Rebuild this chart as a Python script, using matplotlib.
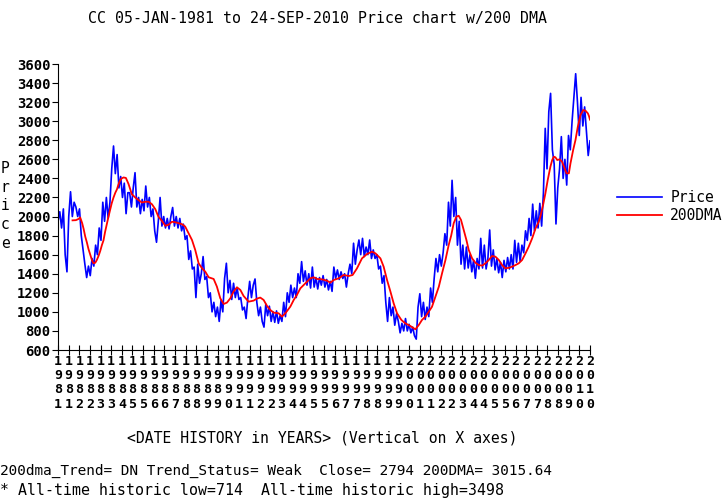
"""CC price history with its 200-day moving average, drawn in the old bitmap-chart style."""

import matplotlib

matplotlib.use("Agg")
import matplotlib.pyplot as plt
import numpy as np

MONO = "DejaVu Sans Mono"
BLUE = "#0000ff"
RED = "#ff0000"

# price samples, ten per year from 05-JAN-1981
price_start = 1981.0
price_step = 0.1
price = [
    1950, 2050, 1880, 2080, 1600, 1420, 2000, 2260, 2000, 2150,  # 1981
    2100, 2000, 2080, 1800, 1650, 1500, 1360, 1480, 1380, 1560,  # 1982
    1480, 1700, 1600, 1880, 1750, 2150, 1950, 2200, 1980, 2150,  # 1983
    2500, 2740, 2450, 2650, 2300, 2420, 2200, 2350, 2030, 2250,  # 1984
    2250, 2100, 2300, 2460, 2100, 2200, 2030, 2180, 2060, 2320,  # 1985
    2100, 2200, 2000, 2080, 1850, 1730, 1950, 2200, 1900, 2000,  # 1986
    1880, 1980, 1870, 2000, 2095, 1900, 2000, 1880, 1980, 1850,  # 1987
    1920, 1760, 1800, 1550, 1640, 1450, 1470, 1150, 1500, 1300,  # 1988
    1400, 1580, 1340, 1370, 1150, 1200, 1000, 1100, 950, 1050,  # 1989
    900, 1120, 1000, 1350, 1510, 1200, 1330, 1130, 1300, 1150,  # 1990
    1250, 1130, 1150, 1020, 1050, 930, 1150, 1320, 1150, 1280,  # 1991
    1345, 1100, 960, 1050, 900, 840, 1080, 960, 1060, 900,  # 1992
    1000, 890, 1010, 880, 960, 900, 1100, 950, 1200, 1100,  # 1993
    1280, 1150, 1250, 1150, 1400, 1300, 1527, 1320, 1430, 1280,  # 1994
    1400, 1250, 1470, 1260, 1360, 1240, 1360, 1280, 1380, 1260,  # 1995
    1340, 1230, 1320, 1215, 1470, 1350, 1440, 1340, 1420, 1350,  # 1996
    1400, 1260, 1400, 1500, 1400, 1720, 1500, 1650, 1754, 1600,  # 1997
    1771, 1580, 1680, 1600, 1754, 1560, 1650, 1560, 1600, 1450,  # 1998
    1480, 1300, 1380, 1100, 900, 1150, 960, 1050, 860, 980,  # 1999
    900, 780, 880, 800, 930, 800, 870, 780, 840, 750,  # 2000
    714, 1050, 1190, 950, 1100, 920, 1050, 950, 1250, 1100,  # 2001
    1350, 1560, 1420, 1600, 1480, 1620, 1820, 1700, 2150, 1900,  # 2002
    2380, 2000, 2200, 1700, 1950, 1500, 1700, 1450, 1680, 1460,  # 2003
    1600, 1420, 1540, 1352, 1560, 1450, 1771, 1460, 1700, 1450,  # 2004
    1560, 1859, 1480, 1650, 1440, 1560, 1410, 1520, 1360, 1540,  # 2005
    1420, 1570, 1450, 1600, 1450, 1750, 1520, 1720, 1530, 1700,  # 2006
    1620, 1850, 1750, 1980, 1800, 2130, 1850, 2060, 1880, 2138,  # 2007
    1900, 2250, 2925, 2500, 3100, 3292, 2700, 2550, 1922, 2300,  # 2008
    2500, 2838, 2400, 2600, 2330, 2850, 2700, 3000, 3250, 3498,  # 2009
    3200, 2850, 3250, 2950, 3150, 2900, 2640, 2794,  # 2010
]

# 200-day moving average as (decimal year, value)
dma = [
    (1981.81, 1960), (1982.00, 1962), (1982.15, 1975), (1982.24, 1990), (1982.35, 1930),
    (1982.43, 1870), (1982.52, 1790), (1982.61, 1730), (1982.70, 1660), (1982.80, 1600),
    (1982.90, 1540), (1982.98, 1510), (1983.08, 1515), (1983.17, 1545), (1983.27, 1590),
    (1983.36, 1640), (1983.45, 1700), (1983.54, 1750), (1983.63, 1840), (1983.73, 1925),
    (1983.82, 2000), (1983.91, 2070), (1984.00, 2140), (1984.10, 2200), (1984.20, 2250),
    (1984.29, 2285), (1984.38, 2340), (1984.47, 2380), (1984.56, 2400), (1984.66, 2410),
    (1984.79, 2405), (1984.94, 2340), (1985.12, 2235), (1985.31, 2200), (1985.50, 2172),
    (1985.68, 2147), (1985.87, 2155), (1986.06, 2155), (1986.24, 2130), (1986.43, 2078),
    (1986.61, 1997), (1986.80, 1955), (1986.99, 1903), (1987.17, 1914), (1987.36, 1945),
    (1987.55, 1940), (1987.73, 1930), (1987.92, 1920), (1988.10, 1895), (1988.29, 1825),
    (1988.48, 1754), (1988.66, 1650), (1988.85, 1510), (1989.04, 1457), (1989.22, 1422),
    (1989.41, 1363), (1989.69, 1345), (1989.87, 1265), (1990.06, 1142), (1990.25, 1083),
    (1990.43, 1097), (1990.62, 1142), (1990.80, 1212), (1990.99, 1258), (1991.18, 1230),
    (1991.36, 1167), (1991.64, 1107), (1991.92, 1118), (1992.11, 1139), (1992.29, 1150),
    (1992.48, 1125), (1992.67, 1062), (1992.85, 1020), (1993.04, 992), (1993.32, 985),
    (1993.50, 950), (1993.69, 985), (1993.97, 1055), (1994.16, 1125), (1994.34, 1178),
    (1994.53, 1247), (1994.81, 1300), (1995.09, 1352), (1995.27, 1363), (1995.46, 1345),
    (1995.74, 1341), (1996.02, 1327), (1996.20, 1306), (1996.39, 1334), (1996.67, 1352),
    (1996.95, 1387), (1997.23, 1376), (1997.45, 1387), (1997.69, 1456), (1997.97, 1561),
    (1998.25, 1607), (1998.53, 1631), (1998.72, 1614), (1999.00, 1561), (1999.18, 1474),
    (1999.37, 1334), (1999.56, 1212), (1999.74, 1089), (1999.93, 984), (2000.17, 915),
    (2000.39, 880), (2000.67, 852), (2000.95, 817), (2001.14, 862), (2001.32, 915),
    (2001.51, 950), (2001.70, 1002), (2001.88, 1054), (2002.07, 1159), (2002.26, 1264),
    (2002.44, 1404), (2002.63, 1544), (2002.81, 1700), (2002.95, 1800), (2003.09, 1929),
    (2003.24, 1999), (2003.37, 2008), (2003.50, 1964), (2003.65, 1859), (2003.80, 1754),
    (2003.93, 1649), (2004.12, 1561), (2004.30, 1516), (2004.49, 1491), (2004.68, 1485),
    (2004.86, 1509), (2005.05, 1544), (2005.23, 1586), (2005.42, 1579), (2005.61, 1544),
    (2005.79, 1491), (2005.98, 1456), (2006.17, 1463), (2006.35, 1474), (2006.54, 1491),
    (2006.72, 1509), (2006.91, 1544), (2007.10, 1614), (2007.28, 1684), (2007.47, 1771),
    (2007.66, 1876), (2007.84, 1946), (2007.93, 2000), (2008.08, 2120), (2008.21, 2243),
    (2008.34, 2383), (2008.49, 2523), (2008.59, 2593), (2008.68, 2628), (2008.77, 2621),
    (2008.87, 2593), (2009.01, 2600), (2009.14, 2575), (2009.28, 2505), (2009.39, 2453),
    (2009.52, 2453), (2009.61, 2558), (2009.76, 2698), (2009.89, 2803), (2010.02, 2943),
    (2010.17, 3065), (2010.32, 3117), (2010.45, 3110), (2010.58, 3082), (2010.64, 3055),
    (2010.70, 3016),
]

y_ticks = [600, 800, 1000, 1200, 1400, 1600, 1800, 2000, 2200, 2400, 2600,
           2800, 3000, 3200, 3400, 3600]

# year printed under each of the 51 evenly spaced x ticks
tick_years = [
    "1981", "1981", "1982", "1982", "1983", "1983", "1984", "1985", "1985",
    "1986", "1986", "1987", "1988", "1988", "1989", "1989", "1990", "1991",
    "1991", "1992", "1992", "1993", "1994", "1994", "1995", "1995", "1996",
    "1997", "1997", "1998", "1998", "1999", "1999", "2000", "2001", "2001",
    "2002", "2002", "2003", "2004", "2004", "2005", "2005", "2006", "2007",
    "2007", "2008", "2008", "2009", "2010", "2010",
]

title = "CC 05-JAN-1981 to 24-SEP-2010 Price chart w/200 DMA"
x_caption = "<DATE HISTORY in YEARS> (Vertical on X axes)"
status_line = "200dma_Trend= DN Trend_Status= Weak  Close= 2794 200DMA= 3015.64"
extremes_line = "* All-time historic low=714  All-time historic high=3498"

W, H = 725, 500
fig = plt.figure(figsize=(W / 100, H / 100), dpi=100)
ax = fig.add_axes([58 / W, 1 - 350 / H, 532 / W, 286 / H])

dates = price_start + price_step * np.arange(len(price))
dma_dates, dma_values = zip(*dma)

ax.plot(dates, price, color=BLUE, lw=1.2, label="Price")
ax.plot(dma_dates, dma_values, color=RED, lw=1.3, label="200DMA")

ax.set_xlim(dates[0], dates[-1])
ax.set_ylim(y_ticks[0], y_ticks[-1])
for side in ("top", "right"):
    ax.spines[side].set_visible(False)
for side in ("left", "bottom"):
    ax.spines[side].set_linewidth(0.8)

ax.set_yticks(y_ticks)
ax.set_yticklabels([str(v) for v in y_ticks], fontfamily=MONO, fontweight="bold", fontsize=10)
ax.set_xticks(np.linspace(dates[0], dates[-1], len(tick_years)))
ax.set_xticklabels(["\n".join(year) for year in tick_years], fontfamily=MONO,
                   fontweight="bold", fontsize=9.5, linespacing=1.13)
ax.tick_params(axis="x", direction="inout", length=7, width=0.8, pad=0)
ax.tick_params(axis="y", direction="out", length=4.5, width=0.8, pad=1)

ax.legend(loc="center left", bbox_to_anchor=(617 / W, 1 - 206.5 / H),
          bbox_transform=fig.transFigure, frameon=False, borderpad=0, borderaxespad=0,
          prop={"family": MONO, "size": 10.5}, handlelength=3.1, handletextpad=0.55,
          labelspacing=0.2)

fig.text(318 / W, 1 - 18 / H, title, ha="center", va="center", family=MONO, fontsize=10.7)
fig.text(5 / W, 1 - 206 / H, "P\nr\ni\nc\ne", ha="center", va="center", family=MONO,
         fontsize=10.5, linespacing=1.3)
fig.text(127 / W, 1 - 438 / H, x_caption, ha="left", va="center", family=MONO, fontsize=10.6)
fig.text(0, 1 - 471 / H, status_line, ha="left", va="center", family=MONO, fontsize=10.4)
fig.text(0, 1 - 491 / H, extremes_line, ha="left", va="center", family=MONO, fontsize=10.7)

fig.savefig("out.png", dpi=100)
plt.close(fig)
